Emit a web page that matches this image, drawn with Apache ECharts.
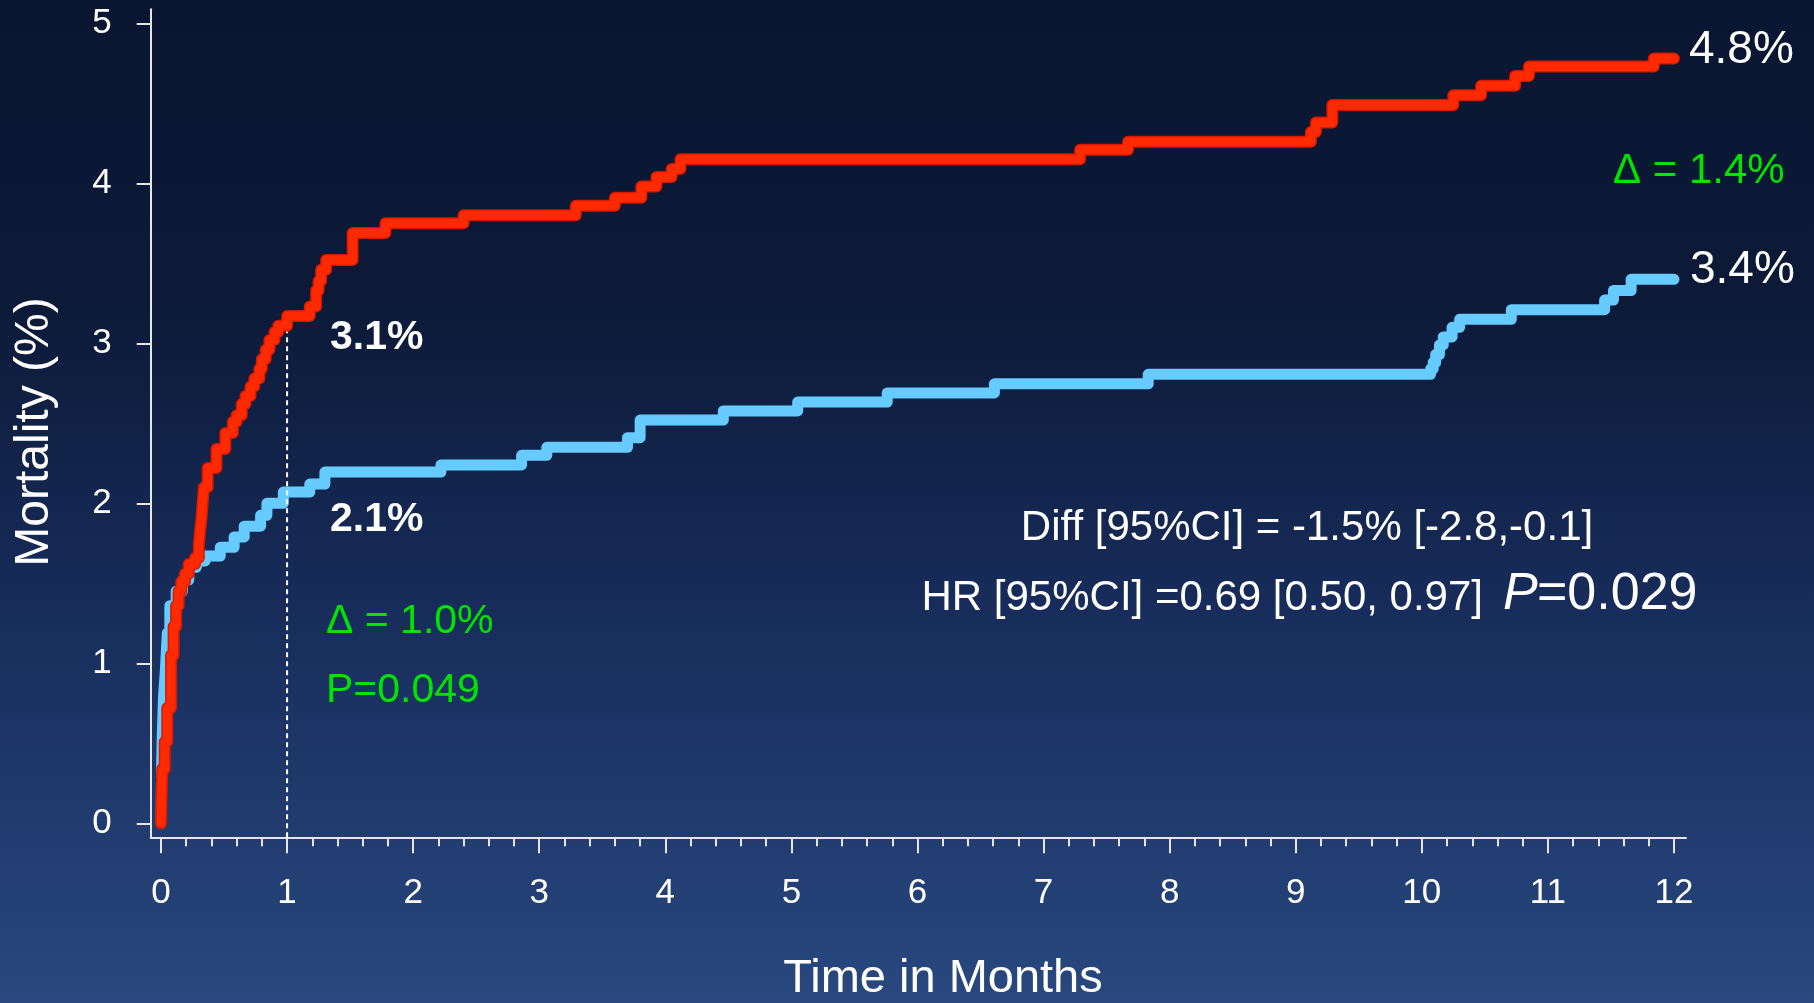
<!DOCTYPE html>
<html>
<head>
<meta charset="utf-8">
<title>Mortality</title>
<script src="https://cdn.jsdelivr.net/npm/echarts@6/dist/echarts.min.js"></script>
<style>
    html, body {
        margin: 0;
        padding: 0;
        width: 100%;
        height: 100%;
        overflow: hidden;
    }
    #chart {
        width: 1814px;
        height: 1003px;
    }
</style>
</head>
<body>
<div id="chart"></div>
<script>
// step curves: time (months) at which the curve jumps, and the rate (%) after the jump
const redTime = [0, 0.01, 0.03, 0.05, 0.08, 0.10, 0.12, 0.14, 0.16, 0.19, 0.22, 0.27, 0.30, 0.31, 0.32, 0.33,
    0.34, 0.37, 0.44, 0.51, 0.57, 0.60, 0.64, 0.67, 0.71, 0.74, 0.78, 0.80, 0.83, 0.86, 0.90, 0.93, 1.00,
    1.18, 1.23, 1.25, 1.27, 1.31, 1.52, 1.78, 2.40, 3.29, 3.60, 3.81, 3.93, 4.05, 4.12,
    7.29, 7.67, 9.12, 9.16, 9.29, 10.25, 10.47, 10.74, 10.85, 11.84, 12.0];
const redRate = [0, 0.34, 0.51, 0.72, 1.05, 1.23, 1.36, 1.45, 1.51, 1.56, 1.62, 1.66, 1.74, 1.83, 1.90, 2.00,
    2.10, 2.22, 2.34, 2.44, 2.51, 2.55, 2.62, 2.67, 2.73, 2.78, 2.84, 2.90, 2.96, 3.02, 3.07, 3.11, 3.17,
    3.23, 3.33, 3.39, 3.46, 3.52, 3.69, 3.75, 3.80, 3.86, 3.91, 3.98, 4.04, 4.09, 4.15,
    4.21, 4.26, 4.32, 4.38, 4.49, 4.55, 4.61, 4.67, 4.73, 4.78, 4.78];

const blueTime = [0, 0.005, 0.01, 0.02, 0.035, 0.05, 0.07, 0.12, 0.17, 0.22, 0.28, 0.35, 0.47, 0.58, 0.66,
    0.79, 0.84, 0.97, 1.18, 1.30, 2.22, 2.86, 3.06, 3.70, 3.80, 4.46, 5.05, 5.76, 6.61, 7.83,
    10.07, 10.09, 10.11, 10.14, 10.17, 10.24, 10.30, 10.71, 11.45, 11.52, 11.66, 12.0];
const blueRate = [0, 0.35, 0.55, 0.79, 0.96, 1.19, 1.36, 1.45, 1.52, 1.60, 1.64, 1.67, 1.725, 1.79, 1.857,
    1.925, 2.00, 2.07, 2.12, 2.195, 2.24, 2.30, 2.35, 2.41, 2.52, 2.577, 2.633, 2.69, 2.747, 2.806,
    2.84, 2.88, 2.93, 2.99, 3.04, 3.10, 3.15, 3.21, 3.27, 3.33, 3.40, 3.40];

const markTime = 1;
const markRate = 3.08;

const xTicks = [0, 1, 2, 3, 4, 5, 6, 7, 8, 9, 10, 11, 12];
const yTicks = [0, 1, 2, 3, 4, 5];

// minor ticks every 0.2 month between the labelled ones
const xMinorTicks = [];
xTicks.slice(0, -1).forEach(function (t) {
    [0.2, 0.4, 0.6, 0.8].forEach(function (f) {
        xMinorTicks.push(+(t + f).toFixed(1));
    });
});

const xMin = -0.0817, xMax = 12.0953;
const yMin = -0.0875, yMax = 5.0875;

const FONT = "'Liberation Sans', Arial, Helvetica, sans-serif";
const AXIS_COLOR = '#e4e6ea';
const GREEN = '#00e400';

function pairs(xs, ys) {
    return xs.map(function (x, i) {
        return [x, ys[i]];
    });
}

function label(text, x, y, size, opts) {
    opts = opts || {};
    const align = opts.align || 'left';
    return {
        type: 'text',
        x: x,
        y: y,
        rotation: opts.rotation || 0,
        silent: true,
        z: 100,
        style: {
            text: text,
            fill: opts.color || '#ffffff',
            fontSize: size,
            fontFamily: FONT,
            fontWeight: opts.bold ? 'bold' : 'normal',
            fontStyle: opts.italic ? 'italic' : 'normal',
            align: align,
            textAlign: align,
            verticalAlign: 'middle',
            textVerticalAlign: 'middle'
        }
    };
}

const chart = echarts.init(document.getElementById('chart'), null, { renderer: 'canvas' });

const option = {
    animation: false,
    backgroundColor: {
        type: 'linear',
        x: 0, y: 0, x2: 0, y2: 1,
        colorStops: [
            { offset: 0, color: '#0a1631' },
            { offset: 0.3, color: '#0c1a38' },
            { offset: 0.6, color: '#172c5a' },
            { offset: 1, color: '#28487f' }
        ]
    },
    grid: {
        left: 150.7,
        right: 128,
        top: 9.3,
        bottom: 165.7,
        containLabel: false,
        outerBoundsMode: 'none'
    },
    xAxis: [
        {
            type: 'value',
            position: 'bottom',
            min: xMin,
            max: xMax,
            splitLine: { show: false },
            axisLine: { show: true, onZero: false, lineStyle: { color: AXIS_COLOR, width: 2 } },
            axisTick: {
                show: true,
                length: 16,
                customValues: xTicks,
                lineStyle: { color: AXIS_COLOR, width: 2 }
            },
            axisLabel: {
                customValues: xTicks,
                color: '#ffffff',
                fontSize: 35,
                fontFamily: FONT,
                margin: 39
            }
        },
        {
            type: 'value',
            position: 'bottom',
            offset: 0,
            min: xMin,
            max: xMax,
            splitLine: { show: false },
            axisLine: { show: false, onZero: false },
            axisTick: {
                show: true,
                length: 9,
                customValues: xMinorTicks,
                lineStyle: { color: AXIS_COLOR, width: 2 }
            },
            axisLabel: { show: false }
        }
    ],
    yAxis: {
        type: 'value',
        min: yMin,
        max: yMax,
        splitLine: { show: false },
        axisLine: { show: true, onZero: false, lineStyle: { color: AXIS_COLOR, width: 2 } },
        axisTick: {
            show: true,
            length: 14,
            customValues: yTicks,
            lineStyle: { color: AXIS_COLOR, width: 2 }
        },
        axisLabel: {
            customValues: yTicks,
            color: '#ffffff',
            fontSize: 35,
            fontFamily: FONT,
            margin: 39
        }
    },
    series: [
        {
            name: 'blue',
            type: 'line',
            step: 'end',
            symbol: 'none',
            silent: true,
            data: pairs(blueTime, blueRate),
            lineStyle: { color: '#66ccff', width: 11, cap: 'round', join: 'round' }
        },
        {
            name: 'month1',
            type: 'line',
            symbol: 'none',
            silent: true,
            data: [[markTime, yMin], [markTime, markRate]],
            lineStyle: { color: '#ffffff', width: 2, type: [5, 4] }
        },
        {
            name: 'red-edge',
            type: 'line',
            step: 'end',
            symbol: 'none',
            silent: true,
            data: pairs(redTime, redRate),
            lineStyle: { color: '#d81800', width: 12, cap: 'round', join: 'round' }
        },
        {
            name: 'red',
            type: 'line',
            step: 'end',
            symbol: 'none',
            silent: true,
            data: pairs(redTime, redRate),
            lineStyle: { color: '#ff2a00', width: 9, cap: 'round', join: 'round' }
        }
    ],
    graphic: [
        label('Mortality (%)', 35, 432, 48, { align: 'center', rotation: Math.PI / 2 }),
        label('Time in Months', 943, 979, 47, { align: 'center' }),
        label('3.1%', 330, 338, 41, { bold: true }),
        label('2.1%', 330, 520, 41, { bold: true }),
        label('\u0394 = 1.0%', 326, 622, 41, { color: GREEN }),
        label('P=0.049', 326, 691, 41, { color: GREEN }),
        label('4.8%', 1689, 50, 46),
        label('3.4%', 1690, 270, 46),
        label('\u0394 = 1.4%', 1613, 171, 42, { color: GREEN }),
        label('Diff [95%CI] = -1.5% [-2.8,-0.1]', 1307, 528, 42, { align: 'center' }),
        label('HR [95%CI] =0.69 [0.50, 0.97]', 1483, 598, 42, { align: 'right' }),
        label('P', 1503, 595, 52, { italic: true }),
        label('=0.029', 1537, 595, 52)
    ]
};

chart.setOption(option);
</script>
</body>
</html>
